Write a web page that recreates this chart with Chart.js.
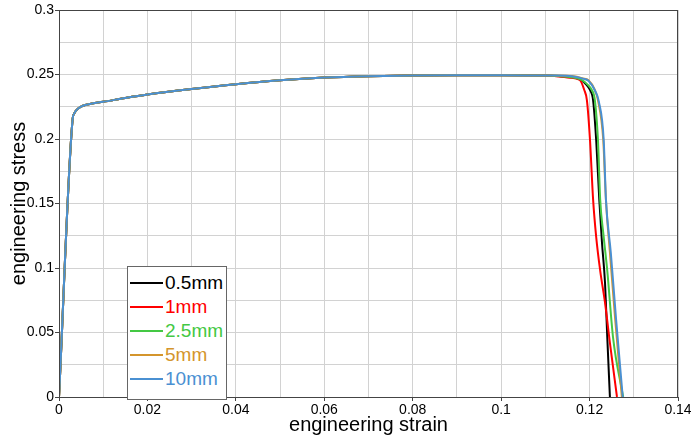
<!DOCTYPE html>
<html>
<head>
<meta charset="utf-8">
<script src="https://cdn.jsdelivr.net/npm/chart.js@4"></script>
<style>
  body { margin: 0; background: #fff; }
  #wrap { position: relative; width: 691px; height: 437px; }
  #legend {
    position: absolute; left: 127px; top: 266px; width: 98px; height: 128px;
    border: 1px solid #666; background: #fff; padding-top: 4px; box-sizing: content-box;
    font-family: "Liberation Sans", Arial, sans-serif; font-size: 19px;
  }
  .row { display: flex; align-items: center; height: 24px; }
  .row span.ln { display: inline-block; width: 33px; height: 2px; margin-left: 2px; margin-right: 2px; }
</style>
</head>
<body>
<div id="wrap">
  <canvas id="chart" width="691" height="437"></canvas>
  <div id="legend"></div>
</div>
<script>
// shared elastic + hardening part of all curves
const strainBase = [0, 0.0031, 0.0034, 0.0038, 0.0044, 0.0054, 0.007, 0.01, 0.015, 0.02, 0.03, 0.04, 0.05, 0.06, 0.07, 0.08, 0.09, 0.1, 0.11];
const stressBase = [0, 0.216, 0.2195, 0.2218, 0.2238, 0.2258, 0.2272, 0.2288, 0.2318, 0.2345, 0.2388, 0.2425, 0.2455, 0.2476, 0.2487, 0.2492, 0.2494, 0.2494, 0.2492];

// necking / failure tails
const tail05Strain = [0.113, 0.116, 0.118, 0.1193, 0.1201, 0.1208, 0.1215, 0.1222, 0.1228, 0.1235, 0.124, 0.1246];
const tail05Stress = [0.2488, 0.2478, 0.2458, 0.242, 0.238, 0.23, 0.199, 0.153, 0.12, 0.088, 0.0465, 0];
const tail1Strain = [0.113, 0.1155, 0.1178, 0.1188, 0.1194, 0.1201, 0.1208, 0.1215, 0.1224, 0.1235, 0.1246, 0.1262];
const tail1Stress = [0.2485, 0.2475, 0.2457, 0.238, 0.23, 0.199, 0.153, 0.124, 0.098, 0.073, 0.042, 0];
const tail25Strain = [0.113, 0.116, 0.1182, 0.1196, 0.1205, 0.1212, 0.1219, 0.1224, 0.1232, 0.124, 0.1253, 0.1276];
const tail25Stress = [0.2488, 0.2478, 0.2458, 0.242, 0.238, 0.23, 0.199, 0.153, 0.124, 0.098, 0.0465, 0];
const tail5Strain = [0.113, 0.116, 0.1185, 0.1197, 0.1212, 0.1219, 0.1231, 0.1235, 0.1237, 0.1246, 0.1258, 0.1273];
const tail5Stress = [0.2493, 0.2488, 0.247, 0.2457, 0.238, 0.23, 0.199, 0.168, 0.153, 0.112, 0.06, 0];
const tail10Strain = [0.113, 0.116, 0.1185, 0.1198, 0.1213, 0.1221, 0.1232, 0.1237, 0.1248, 0.126, 0.1275];
const tail10Stress = [0.2492, 0.2487, 0.2468, 0.245, 0.237, 0.229, 0.199, 0.153, 0.112, 0.06, 0];

const seriesNames = ['0.5mm', '1mm', '2.5mm', '5mm', '10mm'];
const seriesColors = ['#000000', '#ff0000', '#44c844', '#d4952c', '#4a90d2'];
const tailStrains = [tail05Strain, tail1Strain, tail25Strain, tail5Strain, tail10Strain];
const tailStresses = [tail05Stress, tail1Stress, tail25Stress, tail5Stress, tail10Stress];

const xTicks = ['0', '0.02', '0.04', '0.06', '0.08', '0.1', '0.12', '0.14'];
const yTicks = ['0', '0.05', '0.1', '0.15', '0.2', '0.25', '0.3'];

const FONT = '"Liberation Sans", Arial, sans-serif';

function points(i) {
    const xs = strainBase.concat(tailStrains[i]);
    const ys = stressBase.concat(tailStresses[i]);
    return xs.map((x, k) => ({ x: x, y: ys[k] }));
}

const datasets = seriesNames.map((name, i) => ({
    label: name,
    data: points(i),
    borderColor: seriesColors[i],
    backgroundColor: seriesColors[i],
    borderWidth: 2,
    pointRadius: 0,
    cubicInterpolationMode: 'monotone',
    order: seriesNames.length - i
}));

const framePlugin = {
    id: 'frame',
    afterDraw(chart) {
        const { ctx, chartArea: a } = chart;
        ctx.save();
        ctx.strokeStyle = '#444';
        ctx.lineWidth = 1;
        ctx.strokeRect(a.left + 0.5, a.top + 0.5, a.right - a.left - 1, a.bottom - a.top);
        ctx.restore();
    }
};

new Chart(document.getElementById('chart').getContext('2d'), {
    type: 'line',
    data: { datasets: datasets },
    options: {
        responsive: false,
        animation: false,
        layout: { padding: { top: 10, right: 13, left: 0, bottom: 0 } },
        plugins: { legend: { display: false }, tooltip: { enabled: false } },
        scales: {
            x: {
                type: 'linear', min: 0, max: 0.14,
                ticks: {
                    stepSize: 0.01, padding: 1, color: '#000', maxRotation: 0, autoSkip: false,
                    font: { family: FONT, size: 14 },
                    callback: (v, i) => (i % 2 === 0 ? xTicks[i / 2] : '')
                },
                grid: {
                    color: '#d2d2d2', tickLength: 4,
                    tickColor: ctx => (ctx.index % 2 === 0 ? '#444' : 'rgba(0,0,0,0)')
                },
                border: { color: '#444' },
                title: { display: true, text: 'engineering strain', color: '#000', font: { family: FONT, size: 20 }, padding: { top: 0, bottom: 0 } },
                afterFit(s) { s.height = 40; s.paddingLeft = 0; s.paddingRight = 0; }
            },
            y: {
                type: 'linear', min: 0, max: 0.3,
                ticks: {
                    stepSize: 0.025, padding: 1, color: '#000', autoSkip: false,
                    font: { family: FONT, size: 14 },
                    callback: (v, i) => (i % 2 === 0 ? yTicks[i / 2] : '')
                },
                grid: {
                    color: '#d2d2d2', tickLength: 4,
                    tickColor: ctx => (ctx.index % 2 === 0 ? '#444' : 'rgba(0,0,0,0)')
                },
                border: { color: '#444' },
                title: { display: true, text: 'engineering stress', color: '#000', font: { family: FONT, size: 20 }, padding: { top: 7, bottom: 0 } },
                afterFit(s) { s.width = 59; s.paddingTop = 0; s.paddingBottom = 0; }
            }
        }
    },
    plugins: [framePlugin]
});

// legend box drawn inside the plot, bottom left
const legend = document.getElementById('legend');
seriesNames.forEach((name, i) => {
    const row = document.createElement('div');
    row.className = 'row';
    row.innerHTML = '<span class="ln" style="background:' + seriesColors[i] + '"></span>' +
        '<span style="color:' + seriesColors[i] + '">' + name + '</span>';
    legend.appendChild(row);
});
</script>
</body>
</html>
